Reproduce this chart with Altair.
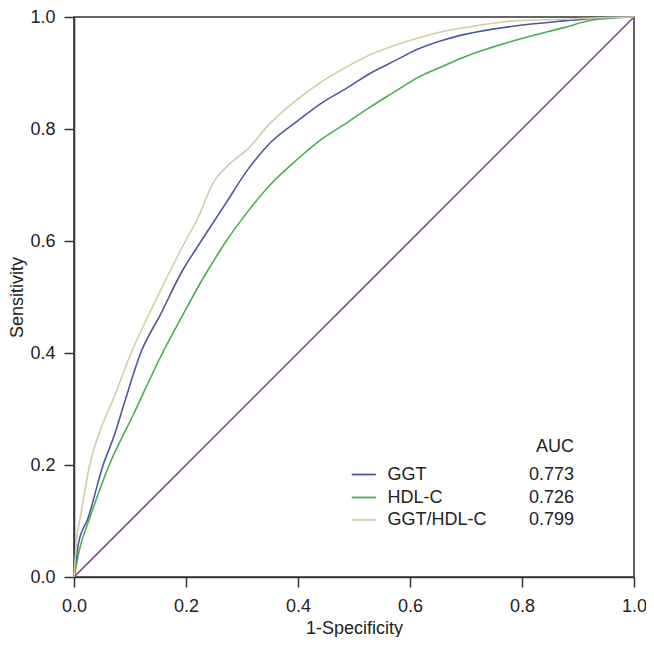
import altair as alt
import pandas as pd

# ---------------- data ----------------
series_names = ["GGT", "HDL-C", "GGT/HDL-C"]
auc_labels = ["0.773", "0.726", "0.799"]
series_colors = ["#4b5a9c", "#4cad50", "#d3cda6"]

ggt_fpr = [0, 0.008, 0.025, 0.052, 0.072, 0.090, 0.119, 0.155, 0.193, 0.222,
           0.269, 0.310, 0.350, 0.400, 0.440, 0.487, 0.530, 0.575, 0.610, 0.663,
           0.698, 0.787, 0.875, 0.934, 1.0]
ggt_tpr = [0, 0.060, 0.105, 0.200, 0.253, 0.311, 0.400, 0.470, 0.546, 0.592,
           0.664, 0.727, 0.775, 0.815, 0.845, 0.873, 0.900, 0.923, 0.941, 0.960,
           0.969, 0.984, 0.993, 0.998, 1.0]

hdl_fpr = [0, 0.010, 0.028, 0.063, 0.105, 0.158, 0.190, 0.228, 0.272, 0.310, 0.350,
           0.399, 0.440, 0.487, 0.530, 0.575, 0.610, 0.663, 0.698, 0.787, 0.875,
           0.928, 1.0]
hdl_tpr = [0, 0.050, 0.105, 0.200, 0.288, 0.400, 0.460, 0.529, 0.600, 0.652, 0.700,
           0.746, 0.780, 0.811, 0.840, 0.868, 0.890, 0.914, 0.929, 0.958, 0.981,
           0.995, 1.0]

ratio_fpr = [0, 0.005, 0.011, 0.028, 0.050, 0.069, 0.102, 0.143, 0.199, 0.222, 0.231,
             0.246, 0.275, 0.310, 0.350, 0.399, 0.440, 0.487, 0.530, 0.575, 0.610,
             0.663, 0.698, 0.787, 0.875, 0.950, 1.0]
ratio_tpr = [0, 0.070, 0.105, 0.200, 0.270, 0.315, 0.400, 0.488, 0.600, 0.643, 0.664,
             0.699, 0.735, 0.764, 0.810, 0.853, 0.883, 0.911, 0.933, 0.950, 0.961,
             0.975, 0.981, 0.993, 0.996, 0.999, 1.0]

ref_fpr = [0, 1]
ref_tpr = [0, 1]

axis_ticks = [0, 0.2, 0.4, 0.6, 0.8, 1.0]

# ---------------- build tables ----------------
rows = []
for name, fx, fy in [("HDL-C", hdl_fpr, hdl_tpr), ("GGT", ggt_fpr, ggt_tpr),
                     ("GGT/HDL-C", ratio_fpr, ratio_tpr)]:
    for i, (a, b) in enumerate(zip(fx, fy)):
        rows.append({"series": name, "fpr": a, "tpr": b, "i": i})
curves = pd.DataFrame(rows)
ref = pd.DataFrame({"fpr": ref_fpr, "tpr": ref_tpr})

W, H = 560, 560
xs = alt.Scale(domain=[0, 1], nice=False, zero=False)
ys = alt.Scale(domain=[0, 1], nice=False, zero=False)

x_enc = alt.X("fpr:Q", scale=xs,
              axis=alt.Axis(values=axis_ticks, format=".1f", title="1-Specificity",
                            labelFlush=False, titleY=56, titleBaseline="alphabetic"))
y_enc = alt.Y("tpr:Q", scale=ys,
              axis=alt.Axis(values=axis_ticks, format=".1f", title="Sensitivity",
                            labelFlush=False, titleX=-52, titleY=H / 2,
                            titleBaseline="alphabetic", titleAngle=270))

diag = alt.Chart(ref).mark_line(color="#7b3c7d", strokeWidth=1.5).encode(x=x_enc, y=y_enc)

lines = alt.Chart(curves).mark_line(strokeWidth=1.6, interpolate="monotone").encode(
    x=x_enc, y=y_enc,
    color=alt.Color("series:N", scale=alt.Scale(domain=series_names, range=series_colors),
                    legend=None),
    detail="series:N",
    order="i:Q",
)

# ---------------- hand-built legend (in data units) ----------------
leg_y_lines = [0.183, 0.142, 0.102]
leg = pd.DataFrame({
    "series": series_names,
    "auc": auc_labels,
    "ly": leg_y_lines,
    "ty": [v - 0.010 for v in leg_y_lines],
    "x1": [0.496] * 3, "x2": [0.539] * 3,
    "xl": [0.560] * 3, "xv": [0.893] * 3,
})
leg_lines = alt.Chart(leg).mark_rule(strokeWidth=1.8).encode(
    x=alt.X("x1:Q", scale=xs), x2="x2:Q", y=alt.Y("ly:Q", scale=ys),
    color=alt.Color("series:N", scale=alt.Scale(domain=series_names, range=series_colors),
                    legend=None),
)
leg_names = alt.Chart(leg).mark_text(align="left", baseline="alphabetic", fontSize=18,
                                     font="Liberation Sans", color="#222").encode(
    x=alt.X("xl:Q", scale=xs), y=alt.Y("ty:Q", scale=ys), text="series:N")
leg_vals = alt.Chart(leg).mark_text(align="right", baseline="alphabetic", fontSize=18,
                                    font="Liberation Sans", color="#222").encode(
    x=alt.X("xv:Q", scale=xs), y=alt.Y("ty:Q", scale=ys), text="auc:N")
auc_head = alt.Chart(pd.DataFrame({"x": [0.893], "y": [0.223], "t": ["AUC"]})).mark_text(
    align="right", baseline="alphabetic", fontSize=18, font="Liberation Sans", color="#222"
).encode(x=alt.X("x:Q", scale=xs), y=alt.Y("y:Q", scale=ys), text="t:N")

chart = alt.layer(diag, lines, leg_lines, leg_names, leg_vals, auc_head).properties(
    width=W, height=H,
    padding={"left": 66, "top": 9, "right": 12, "bottom": 60},
    autosize=alt.AutoSizeParams(type="none"),
).configure_view(stroke="#333333", strokeWidth=1.5).configure_axis(
    grid=False, domainColor="#333333", domainWidth=1.5, tickColor="#333333",
    tickWidth=1.5, tickSize=10, labelFont="Liberation Sans", labelFontSize=18,
    labelColor="#222222", titleFont="Liberation Sans", titleFontSize=18,
    titleFontWeight="normal", titleColor="#222222",
).configure_axisX(labelPadding=10).configure_axisY(labelPadding=9)

chart.save("out.html", embed_options={"renderer": "svg", "actions": False})
